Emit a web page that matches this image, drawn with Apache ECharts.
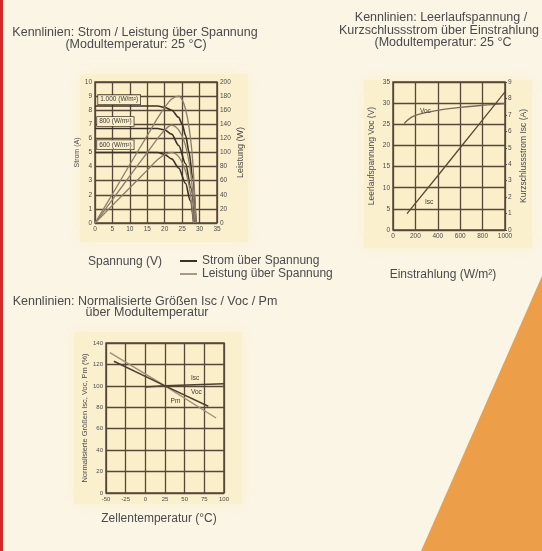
<!DOCTYPE html>
<html><head><meta charset="utf-8">
<script src="https://cdn.jsdelivr.net/npm/echarts@6/dist/echarts.min.js"></script>
<style>html,body{margin:0;padding:0;background:#FBF5E6;}#c{width:542px;height:551px;}</style>
</head><body><div id="c"></div>
<script>
// ---- Chart 1: Strom / Leistung über Spannung ----
const voltageTicks = [0, 5, 10, 15, 20, 25, 30, 35];
const currentTicks = [0, 1, 2, 3, 4, 5, 6, 7, 8, 9, 10];
const powerTicks = [0, 20, 40, 60, 80, 100, 120, 140, 160, 180, 200];
const voltage1000 = [0, 5, 10, 15, 18, 20, 22, 24, 25, 26, 27, 28, 29];
const current1000 = [8.3, 8.3, 8.3, 8.3, 8.3, 8.2, 8.0, 7.5, 7.0, 6.2, 5.0, 3.2, 0];
const power1000   = [0, 41, 83, 124, 149, 164, 176, 180, 175, 161, 135, 90, 0];
const voltage800 = [0, 5, 10, 15, 18, 20, 22, 24, 26, 27.5, 28.7];
const current800 = [6.7, 6.7, 6.7, 6.7, 6.7, 6.6, 6.3, 5.5, 4.2, 2.5, 0];
const power800   = [0, 33, 67, 100, 120, 132, 139, 132, 109, 69, 0];
const voltage600 = [0, 5, 10, 15, 18, 20, 22, 24, 26, 27.3, 28.3];
const current600 = [5.0, 5.0, 5.0, 5.0, 5.0, 4.85, 4.55, 3.9, 2.8, 1.6, 0];
const power600   = [0, 25, 50, 75, 90, 97, 100, 94, 73, 44, 0];
const irradianceLabels = ['1.000 (W/m²)', '800 (W/m²)', '600 (W/m²)'];

// ---- Chart 2: Voc / Isc über Einstrahlung ----
const irradianceTicks = [0, 200, 400, 600, 800, 1000];
const vocTicks = [0, 5, 10, 15, 20, 25, 30, 35];
const iscTicks = [0, 1, 2, 3, 4, 5, 6, 7, 8, 9];
const irradianceVoc = [100, 150, 200, 300, 400, 500, 600, 800, 1000];
const vocValues     = [25.2, 26.4, 27.1, 27.8, 28.3, 28.7, 29.0, 29.5, 29.9];
const irradianceIsc = [125, 400, 600, 800, 1000];
const iscValues     = [1.0, 3.3, 5.0, 6.7, 8.4];

// ---- Chart 3: Normalisierte Größen über Temperatur ----
const tempTicks = [-50, -25, 0, 25, 50, 75, 100];
const percentTicks = [0, 20, 40, 60, 80, 100, 120, 140];
const tempPm = [-45, 25, 90];
const pmNorm = [131, 100, 70];
const tempVoc = [-40, 25, 80];
const vocNorm = [123, 100, 81];
const tempIsc = [0, 25, 100];
const iscNorm = [99, 100, 102];

const zip = (a, b) => a.map((v, i) => [v, b[i]]);
const FONT = 'Liberation Sans, Arial, sans-serif';
const TXT = '#4a4a4a';
const GRIDC = '#564838';
const DARK = '#3b3125';
const LIGHT = '#8c7e6b';
const PLOTBG = '#FAEFC8';

function axis(ticks, extra) {
  return Object.assign({
    type: 'value', min: ticks[0], max: ticks[ticks.length - 1], interval: ticks[1] - ticks[0],
    axisLine: {show: false}, axisTick: {show: false},
    axisLabel: {fontSize: 6.5, color: TXT, margin: 3, fontFamily: FONT, formatter: v => String(v)},
    splitLine: {show: true, lineStyle: {color: GRIDC, width: 1.3}},
    nameTextStyle: {fontSize: 7, color: TXT, fontFamily: FONT}
  }, extra);
}
function lbl(coord, text, opts) {
  return {coord: coord, symbol: 'rect', symbolSize: 0.1,
    label: Object.assign({show: true, position: 'right', distance: 0, formatter: text,
      fontSize: 6.5, color: '#3a3a3a', fontFamily: FONT}, opts || {})};
}
const boxStyle = {borderColor: '#4a3c2c', borderWidth: 0.8, padding: [1, 2], backgroundColor: PLOTBG};

function gtext(x, y, text, size) {
  return {type: 'text', x: x, y: y, z: 50,
    style: {text: text, font: (size || 12.5) + 'px ' + FONT, fill: TXT,
      textAlign: 'center', textVerticalAlign: 'middle', align: 'center', verticalAlign: 'middle'}};
}
function panel(x, y, w, h) {
  return {type: 'rect', z: -100, silent: true, shape: {x: x, y: y, width: w, height: h},
    style: {fill: '#FBF0CD', shadowBlur: 14, shadowColor: '#FBF0CD'}};
}

const option = {
  backgroundColor: '#FBF5E6',
  animation: false,
  grid: [
    {left: 95, top: 82, width: 122, height: 141, show: true, backgroundColor: PLOTBG, borderColor: GRIDC, borderWidth: 1.5},
    {left: 393, top: 82, width: 112, height: 148, show: true, backgroundColor: PLOTBG, borderColor: GRIDC, borderWidth: 1.5},
    {left: 106, top: 343, width: 118, height: 150, show: true, backgroundColor: PLOTBG, borderColor: GRIDC, borderWidth: 1.5}
  ],
  xAxis: [
    axis(voltageTicks, {gridIndex: 0}),
    axis(irradianceTicks, {gridIndex: 1}),
    axis(tempTicks, {gridIndex: 2, axisLabel: {fontSize: 6, color: TXT, margin: 3, fontFamily: FONT}})
  ],
  yAxis: [
    axis(currentTicks, {gridIndex: 0, position: 'left', name: 'Strom (A)', nameLocation: 'middle', nameGap: 9}),
    axis(powerTicks, {gridIndex: 0, position: 'right', name: 'Leistung (W)', nameLocation: 'middle', nameGap: 19,
      splitLine: {show: false}, nameTextStyle: {fontSize: 9, color: TXT, fontFamily: FONT}}),
    axis(vocTicks, {gridIndex: 1, position: 'left', name: 'Leerlaufspannung Voc (V)', nameLocation: 'middle', nameGap: 17,
      nameTextStyle: {fontSize: 8.5, color: TXT, fontFamily: FONT}}),
    axis(iscTicks, {gridIndex: 1, position: 'right', name: 'Kurzschlussstrom Isc (A)', nameLocation: 'middle', nameGap: 14,
      splitLine: {show: false}, axisTick: {show: true, length: 2, lineStyle: {color: GRIDC}},
      nameTextStyle: {fontSize: 8.5, color: TXT, fontFamily: FONT}}),
    axis(percentTicks, {gridIndex: 2, position: 'left', name: 'Normalisierte Größen Isc, Voc, Pm (%)', nameLocation: 'middle', nameGap: 16,
      axisLabel: {fontSize: 6, color: TXT, margin: 3, fontFamily: FONT},
      nameTextStyle: {fontSize: 7.5, color: TXT, fontFamily: FONT}})
  ],
  legend: {
    orient: 'vertical', left: 180, top: 255, itemGap: 1, itemWidth: 17, itemHeight: 2, icon: 'rect', padding: 0,
    textStyle: {fontSize: 12, color: TXT, fontFamily: FONT},
    data: [
      {name: 'Strom über Spannung', itemStyle: {color: DARK}},
      {name: 'Leistung über Spannung', itemStyle: {color: '#a89a86'}}
    ]
  },
  series: [
    {name: 'Strom über Spannung', type: 'line', xAxisIndex: 0, yAxisIndex: 0, data: zip(voltage1000, current1000),
      smooth: 0.3, smoothMonotone: 'x', symbol: 'none', color: DARK, lineStyle: {color: DARK, width: 1.6},
      markPoint: {silent: true, data: [
        lbl([0.9, 8.75], irradianceLabels[0], boxStyle),
        lbl([0.6, 7.2], irradianceLabels[1], boxStyle),
        lbl([0.6, 5.55], irradianceLabels[2], boxStyle)
      ]}},
    {name: 'Strom über Spannung', type: 'line', xAxisIndex: 0, yAxisIndex: 0, data: zip(voltage800, current800),
      smooth: 0.3, smoothMonotone: 'x', symbol: 'none', color: DARK, lineStyle: {color: DARK, width: 1.6}},
    {name: 'Strom über Spannung', type: 'line', xAxisIndex: 0, yAxisIndex: 0, data: zip(voltage600, current600),
      smooth: 0.3, smoothMonotone: 'x', symbol: 'none', color: DARK, lineStyle: {color: DARK, width: 1.6}},
    {name: 'Leistung über Spannung', type: 'line', xAxisIndex: 0, yAxisIndex: 1, data: zip(voltage1000, power1000),
      smooth: 0.3, symbol: 'none', color: LIGHT, lineStyle: {color: LIGHT, width: 1.3}},
    {name: 'Leistung über Spannung', type: 'line', xAxisIndex: 0, yAxisIndex: 1, data: zip(voltage800, power800),
      smooth: 0.3, symbol: 'none', color: LIGHT, lineStyle: {color: LIGHT, width: 1.3}},
    {name: 'Leistung über Spannung', type: 'line', xAxisIndex: 0, yAxisIndex: 1, data: zip(voltage600, power600),
      smooth: 0.3, symbol: 'none', color: LIGHT, lineStyle: {color: LIGHT, width: 1.3}},

    {name: 'Voc', type: 'line', xAxisIndex: 1, yAxisIndex: 2, data: zip(irradianceVoc, vocValues),
      smooth: 0.4, symbol: 'none', color: '#7a6a58', lineStyle: {color: '#7a6a58', width: 1.3},
      markPoint: {silent: true, data: [lbl([240, 28.0], 'Voc')]}},
    {name: 'Isc', type: 'line', xAxisIndex: 1, yAxisIndex: 3, data: zip(irradianceIsc, iscValues),
      symbol: 'none', color: '#5a4a3a', lineStyle: {color: '#5a4a3a', width: 1.3},
      markPoint: {silent: true, data: [lbl([285, 1.7], 'Isc')]}},

    {name: 'Pm', type: 'line', xAxisIndex: 2, yAxisIndex: 4, data: zip(tempPm, pmNorm),
      symbol: 'none', color: '#9c8f7c', lineStyle: {color: '#9c8f7c', width: 1.3},
      markPoint: {silent: true, data: [lbl([32, 86], 'Pm')]}},
    {name: 'Voc norm', type: 'line', xAxisIndex: 2, yAxisIndex: 4, data: zip(tempVoc, vocNorm),
      symbol: 'none', color: '#4e4032', lineStyle: {color: '#4e4032', width: 1.5},
      markPoint: {silent: true, data: [lbl([58, 94], 'Voc')]}},
    {name: 'Isc norm', type: 'line', xAxisIndex: 2, yAxisIndex: 4, data: zip(tempIsc, iscNorm),
      symbol: 'none', color: '#4e4032', lineStyle: {color: '#4e4032', width: 1.5},
      markPoint: {silent: true, data: [lbl([58, 107], 'Isc')]}}
  ],
  graphic: {elements: [
    {type: 'rect', z: -50, silent: true, shape: {x: 0, y: 0, width: 3, height: 551}, style: {fill: '#D42A2A'}},
    {type: 'polygon', z: -50, silent: true, shape: {points: [[542, 276], [421, 551], [542, 551]]}, style: {fill: '#EC9F48'}},
    panel(80, 74, 168, 168),
    panel(364, 80, 168, 168),
    panel(74, 332, 168, 172),
    gtext(135, 33, 'Kennlinien: Strom / Leistung über Spannung'),
    gtext(136, 45, '(Modultemperatur: 25 °C)'),
    gtext(441, 18, 'Kennlinien: Leerlaufspannung /'),
    gtext(439, 31, 'Kurzschlussstrom über Einstrahlung'),
    gtext(443, 43, '(Modultemperatur: 25 °C'),
    gtext(145, 302, 'Kennlinien: Normalisierte Größen Isc / Voc / Pm'),
    gtext(147, 313, 'über Modultemperatur'),
    gtext(125, 262, 'Spannung (V)', 12),
    gtext(443, 275, 'Einstrahlung (W/m²)', 12),
    gtext(159, 519, 'Zellentemperatur (°C)', 12)
  ]}
};
const chart = echarts.init(document.getElementById('c'), null, {renderer: 'canvas'});
chart.setOption(option);
</script></body></html>
